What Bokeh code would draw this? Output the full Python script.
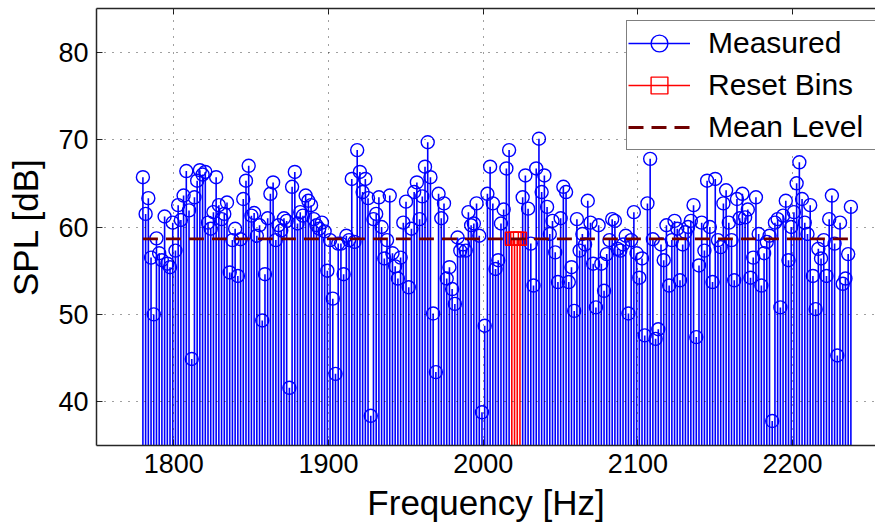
from bokeh.plotting import figure
from bokeh.models import ColumnDataSource, FixedTicker, LinearAxis, Range1d, Legend, LegendItem
from bokeh.embed import file_html
from bokeh.resources import INLINE

# ---------------- data ----------------
F_START = 1780.0      # first frequency bin [Hz]
F_STEP = 1.7536       # bin spacing [Hz]
SPL = [
    65.7, 61.5, 63.3, 56.5, 50.0, 58.7, 57.0, 56.2, 61.2, 55.8,
    55.4, 60.5, 57.3, 62.5, 60.8, 63.6, 66.4, 61.9, 44.9, 63.4,
    65.3, 66.5, 66.0, 66.3, 60.5, 59.8, 61.7, 65.7, 62.5, 60.9,
    61.5, 62.8, 54.8, 58.5, 59.8, 54.4, 58.6, 63.2, 65.3, 67.0,
    61.3, 61.6, 59.0, 60.2, 49.3, 54.6, 61.0, 63.8, 65.1, 58.5,
    60.2, 59.6, 61.0, 60.7, 41.6, 64.6, 66.3, 60.4, 61.7, 61.3,
    63.6, 63.0, 62.5, 60.9, 60.2, 59.8, 60.5, 59.5, 55.0, 58.5,
    51.8, 43.2, 58.1, 58.1, 54.6, 59.0, 58.5, 65.5, 58.3, 68.8,
    66.3, 64.0, 65.5, 63.3, 38.4, 60.9, 61.5, 63.4, 60.0, 56.4,
    58.5, 63.6, 57.0, 55.5, 54.1, 56.5, 60.5, 62.9, 53.1, 59.8,
    64.0, 65.1, 60.9, 63.5, 66.9, 69.7, 65.7, 50.1, 43.4, 63.8,
    61.0, 62.7, 54.1, 55.4, 52.9, 51.2, 58.8, 57.3, 58.0, 57.3,
    61.7, 60.2, 60.4, 62.7, 59.0, 38.8, 48.7, 63.8, 66.9, 62.7,
    55.2, 56.2, 60.4, 62.0, 66.7, 68.8, 58.65, 58.65, 58.65, 58.65,
    63.4, 65.9, 62.1, 58.1, 53.3, 66.7, 70.1, 64.0, 65.9, 62.3,
    59.2, 60.7, 57.1, 53.7, 61.0, 64.6, 64.0, 53.7, 55.4, 50.4,
    60.9, 57.3, 59.2, 58.0, 63.0, 60.5, 55.8, 50.8, 60.2, 55.8,
    52.7, 56.9, 58.5, 60.9, 60.7, 57.5, 57.3, 58.0, 59.0, 50.1,
    58.5, 61.7, 57.0, 54.2, 56.4, 47.6, 62.7, 67.8, 58.6, 47.2,
    48.3, 58.0, 56.2, 60.2, 53.3, 58.5, 60.7, 59.8, 53.9, 58.0,
    59.4, 60.0, 60.7, 62.5, 47.4, 55.6, 60.5, 57.3, 65.3, 60.0,
    53.7, 65.5, 58.5, 57.7, 62.7, 64.2, 60.5, 58.5, 53.9, 63.2,
    61.0, 63.8, 61.1, 62.0, 54.2, 56.5, 63.4, 59.2, 53.3, 57.0,
    58.3, 59.0, 37.8, 60.5, 60.9, 50.8, 61.3, 63.0, 56.2, 60.0,
    61.7, 65.0, 67.4, 63.2, 60.5, 59.2, 62.5, 54.4, 50.6, 57.5,
    56.4, 58.5, 54.4, 60.9, 63.6, 58.1, 45.3, 60.5, 53.5, 54.1,
    56.9, 62.3,
]
RESET_IDX = [136, 137, 138, 139]
MEAN_LEVEL = 58.65
BASELINE = 0.0
X_TICKS = [1800, 1900, 2000, 2100, 2200]
Y_TICKS = [40, 50, 60, 70, 80]

freq = [F_START + i * F_STEP for i in range(len(SPL))]
meas_f = [f for i, f in enumerate(freq) if i not in RESET_IDX]
meas_v = [v for i, v in enumerate(SPL) if i not in RESET_IDX]
reset_f = [freq[i] for i in RESET_IDX]
reset_v = [SPL[i] for i in RESET_IDX]

src_m = ColumnDataSource(dict(f=meas_f, v=meas_v, b=[BASELINE] * len(meas_f)))
src_r = ColumnDataSource(dict(f=reset_f, v=reset_v, b=[BASELINE] * len(reset_f)))
src_mean = ColumnDataSource(dict(f=[freq[0], freq[-1]], v=[MEAN_LEVEL, MEAN_LEVEL]))

# ---------------- figure ----------------
FONT = "Liberation Sans"
p = figure(width=875, height=527, output_backend="svg", toolbar_location=None,
           x_range=Range1d(1750, 2253.6), y_range=Range1d(35, 85),
           min_border_left=96, min_border_right=0, min_border_top=8, min_border_bottom=82)
p.background_fill_color = "white"
p.border_fill_color = "white"
p.outline_line_color = None

AX_COL = "#262626"
for ax in (p.xaxis[0], p.yaxis[0]):
    ax.axis_line_color = AX_COL
    ax.axis_line_width = 1.5
    ax.major_tick_line_color = AX_COL
    ax.major_tick_in = 6
    ax.major_tick_out = 0
    ax.minor_tick_line_color = None
    ax.major_label_text_font = FONT
    ax.major_label_text_font_size = "27px"
    ax.major_label_text_color = "black"
    ax.axis_label_text_font = FONT
    ax.axis_label_text_font_size = "35px"
    ax.axis_label_text_font_style = "normal"
    ax.axis_label_text_color = "black"

p.xaxis[0].ticker = FixedTicker(ticks=X_TICKS)
p.yaxis[0].ticker = FixedTicker(ticks=Y_TICKS)
p.xaxis[0].axis_label = "Frequency [Hz]"
p.yaxis[0].axis_label = "SPL [dB]"
p.xaxis[0].major_label_standoff = 8
p.xaxis[0].axis_label_standoff = 7
p.yaxis[0].major_label_standoff = 8
p.yaxis[0].axis_label_standoff = 10

top = LinearAxis(ticker=FixedTicker(ticks=X_TICKS))
top.axis_line_color = AX_COL
top.axis_line_width = 1.5
top.major_tick_line_color = AX_COL
top.major_tick_in = 6
top.major_tick_out = 0
top.minor_tick_line_color = None
top.major_label_text_color = None
top.major_label_text_font_size = "1px"
top.major_label_standoff = 0
p.add_layout(top, "above")

for g in (p.xgrid[0], p.ygrid[0]):
    g.level = "annotation"
    g.grid_line_color = "black"
    g.grid_line_alpha = 0.75
    g.grid_line_width = 1
    g.grid_line_dash = "1 7"
p.xgrid[0].ticker = FixedTicker(ticks=X_TICKS)
p.ygrid[0].ticker = FixedTicker(ticks=Y_TICKS)

# measured stems
BLUE = "#0000ff"
RED = "#ff0000"
seg_m = p.segment(x0="f", y0="b", x1="f", y1="v", source=src_m, line_color=BLUE, line_width=1.6)
mk_m = p.scatter(x="f", y="v", source=src_m, marker="circle", size=13,
                 fill_color=None, line_color=BLUE, line_width=1.4)
seg_r = p.segment(x0="f", y0="b", x1="f", y1="v", source=src_r, line_color=RED, line_width=1.6)
mk_r = p.scatter(x="f", y="v", source=src_r, marker="square", size=13,
                 fill_color=None, line_color=RED, line_width=1.4)
mean_r = p.line(x="f", y="v", source=src_mean, line_color="#700000", line_width=2.8,
                line_dash="15 8")

legend = Legend(items=[
    LegendItem(label="Measured", renderers=[seg_m, mk_m]),
    LegendItem(label="Reset Bins", renderers=[seg_r, mk_r]),
    LegendItem(label="Mean Level", renderers=[mean_r]),
], location=(530, 295))
legend.label_text_font = FONT
legend.label_text_font_size = "30px"
legend.label_text_color = "black"
legend.label_height = 42
legend.glyph_height = 42
legend.glyph_width = 62
legend.label_standoff = 18
legend.label_width = 175
legend.spacing = 0
legend.padding = 1
legend.margin = 0
legend.border_line_color = "black"
legend.border_line_width = 1
legend.background_fill_color = "white"
legend.background_fill_alpha = 1
p.add_layout(legend)

open("out.html", "w").write(file_html(p, INLINE))
